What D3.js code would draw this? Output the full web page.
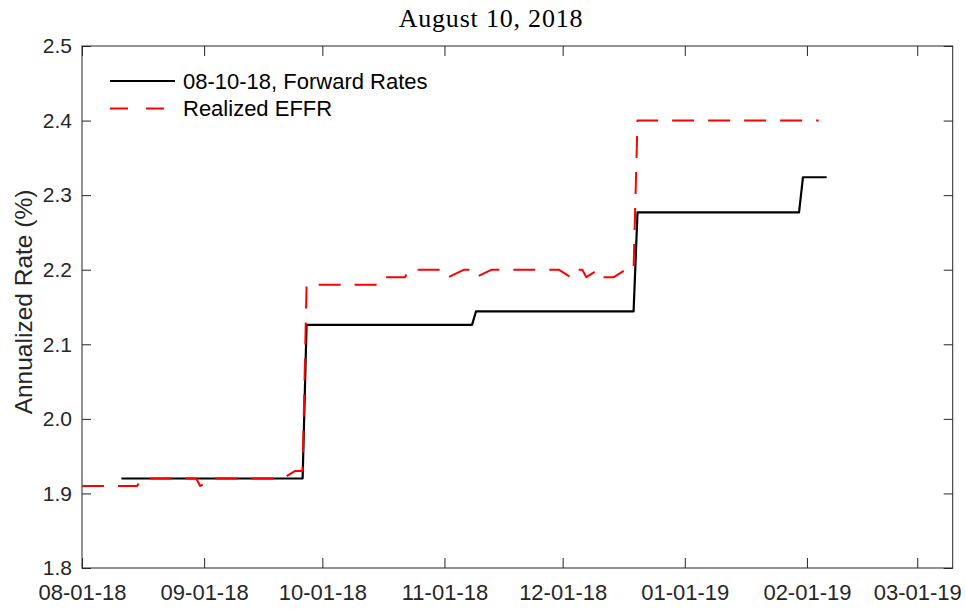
<!DOCTYPE html>
<html>
<head>
<meta charset="utf-8">
<script src="https://cdn.jsdelivr.net/npm/d3@7"></script>
<style>
  html, body { margin: 0; padding: 0; background: #fff; }
  svg { display: block; }
</style>
</head>
<body>
<div id="chart"></div>
<script>
// ---- Data ----
const forwardDates = ["2018-08-11","2018-09-26","2018-09-27","2018-11-08","2018-11-09","2018-12-19","2018-12-20","2019-01-30","2019-01-31","2019-02-06"];
const forwardValues = [1.92,1.92,2.126,2.126,2.144,2.144,2.277,2.277,2.324,2.324];

const effrDates = ["2018-08-01","2018-08-15","2018-08-16","2018-08-30","2018-08-31","2018-09-04","2018-09-21","2018-09-24","2018-09-26","2018-09-27",
  "2018-10-16","2018-10-17","2018-10-22","2018-10-23","2018-11-01","2018-11-02","2018-11-06","2018-11-08","2018-11-09","2018-11-13",
  "2018-11-30","2018-12-03","2018-12-04","2018-12-06","2018-12-07","2018-12-10","2018-12-11","2018-12-14","2018-12-17","2018-12-19",
  "2018-12-20","2019-02-04"];
const effrValues = [1.91,1.91,1.92,1.92,1.91,1.92,1.92,1.93,1.93,2.18,
  2.18,2.19,2.19,2.20,2.20,2.19,2.20,2.20,2.19,2.20,
  2.20,2.19,2.20,2.20,2.19,2.20,2.19,2.19,2.20,2.20,
  2.40,2.40];

const xTickDates = ["2018-08-01","2018-09-01","2018-10-01","2018-11-01","2018-12-01","2019-01-01","2019-02-01","2019-03-01"];
const yTicks = [1.8,1.9,2.0,2.1,2.2,2.3,2.4,2.5];
const xDomain = ["2018-08-01","2019-03-10"];
const yDomain = [1.8, 2.5];

const titleText = "August 10, 2018";
const yLabel = "Annualized Rate (%)";
const legendLabels = ["08-10-18, Forward Rates", "Realized EFFR"];

// ---- Layout ----
const W = 966, H = 609;
const L = 82, R = 952.7, T = 46, B = 568;
const axisColor = "#262626";
const parse = d3.utcParse("%Y-%m-%d");

const svg = d3.select("#chart").append("svg")
  .attr("width", W).attr("height", H)
  .style("font-family", "'Liberation Sans', Arial, Helvetica, sans-serif");

const x = d3.scaleUtc().domain(xDomain.map(parse)).range([L, R]);
const y = d3.scaleLinear().domain(yDomain).range([B, T]);

const xt = xTickDates.map(parse);
const fmt = d3.utcFormat("%m-%d-%y");

// Bottom axis
const gB = svg.append("g").attr("transform", `translate(0,${B})`)
  .call(d3.axisBottom(x).tickValues(xt).tickFormat(fmt).tickSizeInner(-10).tickSizeOuter(0).tickPadding(16));
// Top axis
const gT = svg.append("g").attr("transform", `translate(0,${T})`)
  .call(d3.axisTop(x).tickValues(xt).tickFormat("").tickSizeInner(-10).tickSizeOuter(0));
// Left axis
const gL = svg.append("g").attr("transform", `translate(${L},0)`)
  .call(d3.axisLeft(y).tickValues(yTicks).tickFormat(d3.format(".1f")).tickSizeInner(-9).tickSizeOuter(0).tickPadding(10));
// Right axis
const gR = svg.append("g").attr("transform", `translate(${R},0)`)
  .call(d3.axisRight(y).tickValues(yTicks).tickFormat("").tickSizeInner(-9).tickSizeOuter(0));

[gB, gT, gL, gR].forEach(g => {
  g.select(".domain").remove();
  g.selectAll(".tick line").attr("stroke", axisColor).attr("stroke-width", 1);
  g.selectAll(".tick text").attr("fill", axisColor).style("font-size", "21px")
    .style("font-family", "'Liberation Sans', Arial, Helvetica, sans-serif");
});
gB.selectAll(".tick text").style("font-size", "22px");

// Box
svg.append("rect")
  .attr("x", L).attr("y", T).attr("width", R - L).attr("height", B - T)
  .attr("fill", "none").attr("stroke", axisColor).attr("stroke-width", 1);

// Lines
const clipId = "plotclip";
svg.append("clipPath").attr("id", clipId).append("rect")
  .attr("x", L).attr("y", T).attr("width", R - L).attr("height", B - T);

const line = d3.line().x(d => x(d[0])).y(d => y(d[1]));
const fwd = forwardDates.map((d, i) => [parse(d), forwardValues[i]]);
const effr = effrDates.map((d, i) => [parse(d), effrValues[i]]);

const plot = svg.append("g").attr("clip-path", `url(#${clipId})`);
plot.append("path").datum(fwd).attr("d", line)
  .attr("fill", "none").attr("stroke", "#000").attr("stroke-width", 2.2).attr("stroke-linejoin", "round");
plot.append("path").datum(effr).attr("d", line)
  .attr("fill", "none").attr("stroke", "#ff0000").attr("stroke-width", 2).attr("stroke-linejoin", "round")
  .attr("stroke-dasharray", "22,14");

// Legend
const leg = svg.append("g");
const legY = [81, 108.5];
const legStyles = [{c:"#000", d:null, w:2.2}, {c:"#ff0000", d:"18,18", w:2}];
legendLabels.forEach((lab, i) => {
  const ln = leg.append("line").attr("x1", 110).attr("x2", 175).attr("y1", legY[i]).attr("y2", legY[i])
    .attr("stroke", legStyles[i].c).attr("stroke-width", legStyles[i].w);
  if (legStyles[i].d) ln.attr("stroke-dasharray", legStyles[i].d);
  leg.append("text").attr("x", 183).attr("y", legY[i]).attr("dy", "0.36em")
    .attr("fill", "#000").style("font-size", "22px").text(lab);
});

// Title
svg.append("text").attr("x", 491).attr("y", 27).attr("text-anchor", "middle")
  .style("font-family", "'Liberation Serif', 'Times New Roman', serif")
  .style("font-size", "26px").style("letter-spacing", "0.8px")
  .attr("fill", "#000").text(titleText);

// Y label
svg.append("text")
  .attr("transform", `translate(32,${(T + B) / 2 - 5}) rotate(-90)`)
  .attr("text-anchor", "middle")
  .attr("fill", axisColor).style("font-size", "24.5px").text(yLabel);
</script>
</body>
</html>
